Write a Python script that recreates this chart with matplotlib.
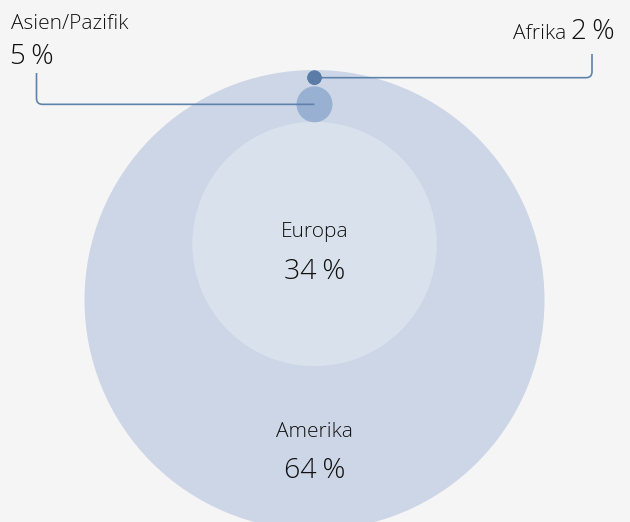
import matplotlib.pyplot as plt
from matplotlib.patches import Circle, PathPatch
from matplotlib.path import Path

# Anteile nach Region (%)
regions = ["Amerika", "Europa", "Asien/Pazifik", "Afrika"]
shares = [64, 34, 5, 2]
colors = ["#cdd6e6", "#d9e2ec", "#98b1d2", "#5a7ca7"]

BG = "#f5f5f5"
LINE = "#5f82ad"
TXT = "#111111"
FONT = ["Open Sans", "DejaVu Sans"]

px_per_pct = 230 / 64  # radius proportional to share
r = {k: v * px_per_pct for k, v in zip(regions, shares)}
col = dict(zip(regions, colors))

fig = plt.figure(figsize=(6.3, 5.22), dpi=100, facecolor=BG)
ax = fig.add_axes([0, 0, 1, 1])
ax.set_xlim(0, 630)
ax.set_ylim(522, 0)
ax.set_aspect("equal")
ax.axis("off")

cx = 314.5
centers = {}
centers["Amerika"] = (cx, 70 + r["Amerika"])
centers["Europa"] = (cx, 244)
centers["Asien/Pazifik"] = (cx, centers["Europa"][1] - r["Europa"] - r["Asien/Pazifik"] + 0.5)
centers["Afrika"] = (cx, centers["Asien/Pazifik"][1] - r["Asien/Pazifik"] - r["Afrika"] - 1.5)

for name in regions:
    ax.add_patch(Circle(centers[name], r[name], facecolor=col[name], edgecolor="none", zorder=1))


def leader(x0, y0, x1, y1, rad=6):
    # horizontal from (x0, y0) to x1, rounded corner, then vertical up to y1
    sgn = 1 if x1 > x0 else -1
    verts = [(x0, y0), (x1 - sgn * rad, y0), (x1, y0), (x1, y0 - rad), (x1, y1)]
    codes = [Path.MOVETO, Path.LINETO, Path.CURVE3, Path.CURVE3, Path.LINETO]
    ax.add_patch(PathPatch(Path(verts, codes), facecolor="none", edgecolor=LINE, lw=1.2, zorder=2))


ax_, ay_ = centers["Asien/Pazifik"]
leader(ax_, ay_, 36.5, 73)
fx, fy = centers["Afrika"]
leader(fx, fy, 592, 54)
# redraw small dot on top of its line start
ax.add_patch(Circle(centers["Afrika"], r["Afrika"], facecolor=col["Afrika"], edgecolor="none", zorder=3))

lab = dict(color=TXT, family=FONT, fontweight="light")
small, big = 15, 20

# Asien/Pazifik
ax.text(11, 29, "Asien/Pazifik", fontsize=small, ha="left", va="baseline", **lab)
ax.text(10.5, 63.5, f"{shares[2]}\u2009%", fontsize=big, ha="left", va="baseline", **lab)

# Afrika
ax.text(615, 39, f"{shares[3]}\u2009%", fontsize=big, ha="right", va="baseline", **lab)
ax.text(566, 39, "Afrika", fontsize=small, ha="right", va="baseline", **lab)

# Europa
ax.text(cx, 237.5, "Europa", fontsize=small, ha="center", va="baseline", **lab)
ax.text(cx, 279, f"{shares[1]}\u2009%", fontsize=big + 0.5, ha="center", va="baseline", **lab)

# Amerika
ax.text(cx, 437, "Amerika", fontsize=small, ha="center", va="baseline", **lab)
ax.text(cx, 478, f"{shares[0]}\u2009%", fontsize=big + 0.5, ha="center", va="baseline", **lab)

fig.savefig("out.png", dpi=100, facecolor=BG)
